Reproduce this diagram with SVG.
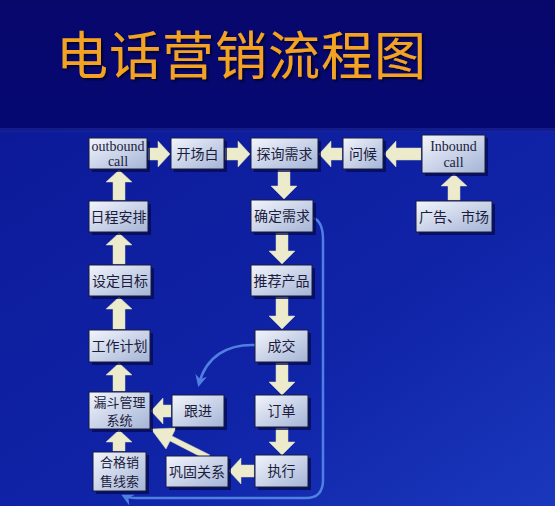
<svg xmlns="http://www.w3.org/2000/svg" width="555" height="506" viewBox="0 0 555 506">
<defs>
<linearGradient id="bgTop" x1="0" y1="0" x2="0" y2="1">
<stop offset="0" stop-color="#07076c"/>
<stop offset="1" stop-color="#060872"/>
</linearGradient>
<linearGradient id="bgBot" x1="0" y1="0" x2="1" y2="1">
<stop offset="0" stop-color="#0c1a98"/>
<stop offset="0.6" stop-color="#1024a8"/>
<stop offset="1" stop-color="#1a38bc"/>
</linearGradient>
<linearGradient id="boxFill" x1="0" y1="0" x2="1" y2="1">
<stop offset="0" stop-color="#f2f5fc"/>
<stop offset="1" stop-color="#a4b4d6"/>
</linearGradient>
<filter id="tshadow" x="-5%" y="-5%" width="110%" height="120%">
<feDropShadow dx="2" dy="2" stdDeviation="0.8" flood-color="#000020" flood-opacity="0.8"/>
</filter>
<marker id="blueHead" markerWidth="14" markerHeight="14" refX="9" refY="7" orient="auto" markerUnits="userSpaceOnUse">
<path d="M0,1 L12,7 L0,13 L4,7 Z" fill="#4f7fe0"/>
</marker>
</defs>
<style>
.box{fill:url(#boxFill);stroke:#1a1a3a;stroke-width:1}
.shd{fill:#030a50;opacity:0.75}
.t{font-family:"Noto Sans CJK SC","Noto Sans",sans-serif;font-size:14px;fill:#1c1c3c;text-anchor:middle}
.t2{font-family:"Noto Sans CJK SC","Noto Sans",sans-serif;font-size:13px;fill:#1c1c3c;text-anchor:middle}
.e{font-family:"Liberation Serif","Noto Sans CJK SC",serif;font-size:14px;fill:#1c1c3c;text-anchor:middle}
.arr{fill:#ececcc;stroke:#d8d8b0;stroke-width:0.5}
.conn{fill:none;stroke:#4f7fe0;stroke-width:2.5}
</style>
<rect x="0" y="0" width="555" height="131" fill="url(#bgTop)"/>
<rect x="0" y="131" width="555" height="375" fill="url(#bgBot)"/>
<rect x="0" y="128" width="555" height="4" fill="#1a2aa0" opacity="0.6"/>
<text x="56" y="75" font-family="'Noto Sans CJK SC','Noto Sans',sans-serif" font-size="52" fill="#f3a224" letter-spacing="1" filter="url(#tshadow)">电话营销流程图</text>

<g id="connectors">
<path class="arr" d="M148,148 H158 V141 L170,154 L158,167 V160 H148 Z"/>
<path class="arr" d="M225,148 H238 V141 L250,154 L238,167 V160 H225 Z"/>
<path class="arr" d="M342,148 H331 V141 L319,154 L331,167 V160 H342 Z"/>
<path class="arr" d="M421,148 H396 V141 L384,154 L396,167 V160 H421 Z"/>
<path class="arr" d="M448,200 V186 H441 L454,174 L467,186 H460 V200 Z"/>
<path class="arr" d="M113,200 V182 H106 L119,170 L132,182 H125 V200 Z"/>
<path class="arr" d="M113,264 V245 H106 L119,233 L132,245 H125 V264 Z"/>
<path class="arr" d="M113,329 V309 H106 L119,297 L132,309 H125 V329 Z"/>
<path class="arr" d="M113,391 V375 H106 L119,363 L132,375 H125 V391 Z"/>
<path class="arr" d="M113,451 V442 H106 L119,430 L132,442 H125 V451 Z"/>
<path class="arr" d="M171,405 H163 V398 L151,411 L163,424 V417 H171 Z"/>
<path class="arr" d="M254,465 H241 V458 L229,471 L241,484 V477 H254 Z"/>
<path class="arr" d="M210,455 L172,436 L176,428 L151,429 L166,449 L170,441 L205,459 Z"/>
<path class="arr" d="M278,170 V186 H271 L284,199 L297,186 H290 V170 Z"/>
<path class="arr" d="M276,233 V251 H269 L282,264 L295,251 H288 V233 Z"/>
<path class="arr" d="M276,297 V316 H269 L282,329 L295,316 H288 V297 Z"/>
<path class="arr" d="M276,363 V382 H269 L282,395 L295,382 H288 V363 Z"/>
<path class="arr" d="M276,428 V442 H269 L282,455 L295,442 H288 V428 Z"/>
<path class="conn" d="M313,218 C320,220 323,228 323,240 V480 Q323,498 306,498 H136 Q128,498 124,496" marker-end="url(#blueHead)"/>
<path class="conn" d="M255,345 C228,344 206,356 199,384" marker-end="url(#blueHead)"/>
</g>

<g id="n-outbound"><rect class="shd" x="92" y="141" width="58" height="31"/><rect class="box" x="89" y="138" width="58" height="31"/><text class="e" x="118" y="151">outbound</text><text class="e" x="118" y="166">call</text></g>
<g id="n-kaichang"><rect class="shd" x="174" y="141" width="53" height="31"/><rect class="box" x="171" y="138" width="53" height="31"/><text class="t" x="197.5" y="159">开场白</text></g>
<g id="n-tanxun"><rect class="shd" x="254" y="141" width="67" height="31"/><rect class="box" x="251" y="138" width="67" height="31"/><text class="t" x="284.5" y="159">探询需求</text></g>
<g id="n-wenhou"><rect class="shd" x="346" y="141" width="40" height="31"/><rect class="box" x="343" y="138" width="40" height="31"/><text class="t" x="363" y="159">问候</text></g>
<g id="n-inbound"><rect class="shd" x="425" y="138" width="63" height="38"/><rect class="box" x="422" y="135" width="63" height="38"/><text class="e" x="453.5" y="151">Inbound</text><text class="e" x="453.5" y="167">call</text></g>
<g id="n-guanggao"><rect class="shd" x="419" y="204" width="76" height="31"/><rect class="box" x="416" y="201" width="76" height="31"/><text class="t" x="454" y="222">广告、市场</text></g>
<g id="n-richeng"><rect class="shd" x="92" y="204" width="59" height="31"/><rect class="box" x="89" y="201" width="59" height="31"/><text class="t" x="118.5" y="222">日程安排</text></g>
<g id="n-queding"><rect class="shd" x="254" y="203" width="62" height="32"/><rect class="box" x="251" y="200" width="62" height="32"/><text class="t" x="282" y="221">确定需求</text></g>
<g id="n-sheding"><rect class="shd" x="92" y="268" width="62" height="31"/><rect class="box" x="89" y="265" width="62" height="31"/><text class="t" x="120" y="286">设定目标</text></g>
<g id="n-tuijian"><rect class="shd" x="254" y="268" width="61" height="31"/><rect class="box" x="251" y="265" width="61" height="31"/><text class="t" x="281.5" y="286">推荐产品</text></g>
<g id="n-gongzuo"><rect class="shd" x="92" y="333" width="61" height="32"/><rect class="box" x="89" y="330" width="61" height="32"/><text class="t" x="119.5" y="351">工作计划</text></g>
<g id="n-chengjiao"><rect class="shd" x="258" y="333" width="53" height="32"/><rect class="box" x="255" y="330" width="53" height="32"/><text class="t" x="281.5" y="351">成交</text></g>
<g id="n-loudou"><rect class="shd" x="92" y="395" width="61" height="37"/><rect class="box" x="89" y="392" width="61" height="37"/><text class="t2" x="119.5" y="407">漏斗管理</text><text class="t2" x="119.5" y="425">系统</text></g>
<g id="n-genjin"><rect class="shd" x="175" y="398" width="52" height="32"/><rect class="box" x="172" y="395" width="52" height="32"/><text class="t" x="198" y="416">跟进</text></g>
<g id="n-dingdan"><rect class="shd" x="258" y="398" width="53" height="32"/><rect class="box" x="255" y="395" width="53" height="32"/><text class="t" x="281.5" y="416">订单</text></g>
<g id="n-hege"><rect class="shd" x="96" y="455" width="53" height="39"/><rect class="box" x="93" y="452" width="53" height="39"/><text class="t2" x="119.5" y="467">合格销</text><text class="t2" x="119.5" y="486">售线索</text></g>
<g id="n-gonggu"><rect class="shd" x="169" y="459" width="62" height="31"/><rect class="box" x="166" y="456" width="62" height="31"/><text class="t" x="197" y="477">巩固关系</text></g>
<g id="n-zhixing"><rect class="shd" x="258" y="458" width="53" height="32"/><rect class="box" x="255" y="455" width="53" height="32"/><text class="t" x="281.5" y="476">执行</text></g>
</svg>
